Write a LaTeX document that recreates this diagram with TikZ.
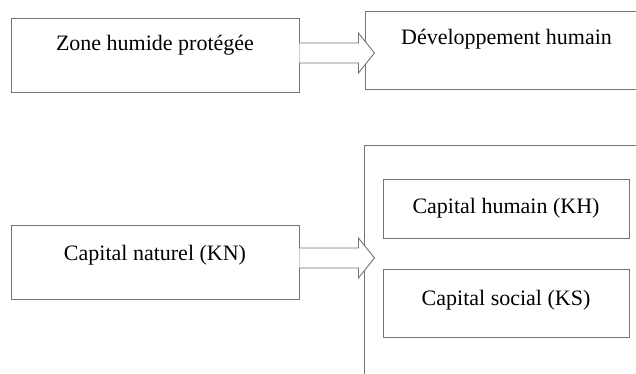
\documentclass[tikz,border=0pt]{standalone}
\usepackage{fontspec}
\setmainfont{Liberation Serif}
\usetikzlibrary{calc}

\begin{document}
\begin{tikzpicture}[
    x=1pt, y=-1pt,
    font=\fontsize{22}{26}\selectfont,
    trait/.style={draw=black!55, line width=0.9pt},
    boite/.style={trait, rectangle, inner sep=0pt, align=center, text height=15pt},
    bloc/.style={trait, fill=white, line join=miter}]
  \useasboundingbox (0,0) rectangle (636,374);
  \clip (0,0) rectangle (636,374);

  % haut
  \node[boite, minimum width=288pt, minimum height=74pt, text depth=23pt] (zone) at (155,55) {Zone humide protégée};
  \node[boite, minimum width=283pt, minimum height=78pt, text depth=25pt] (devhum) at (506.5,50) {Développement humain};

  % bas
  \node[boite, minimum width=288pt, minimum height=74pt, text depth=19pt] (kn) at (155,262) {Capital naturel (KN)};
  \node[boite, anchor=north west, minimum width=300pt, minimum height=260pt] (capitaux) at (364,145) {};
  \node[boite, minimum width=246pt, minimum height=59pt, text depth=6pt] (kh) at (506,208.5) {Capital humain (KH)};
  \node[boite, minimum width=246pt, minimum height=68pt, text depth=11pt] (ks) at (506,303) {Capital social (KS)};

  % fleches
  \draw[bloc] ($(zone.east)+(0,-12)$) -- ++(59,0) -- ++(0,-10) -- ++(16,20) -- ++(-16,20) -- ++(0,-10) -- ++(-59,0);
  \draw[bloc] ($(kn.east)+(0,-14)$) -- ++(59,0) -- ++(0,-10) -- ++(16,20) -- ++(-16,20) -- ++(0,-10) -- ++(-59,0);
\end{tikzpicture}
\end{document}
